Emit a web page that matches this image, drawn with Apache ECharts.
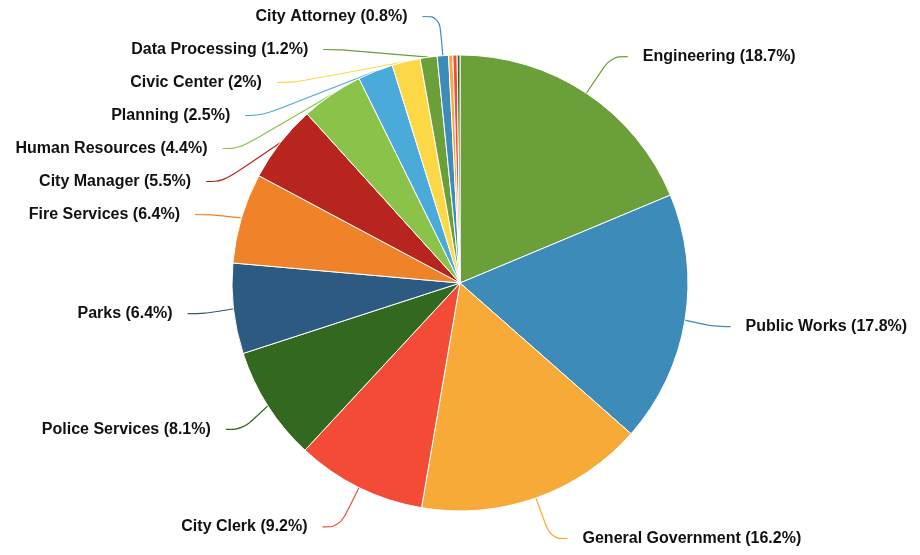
<!DOCTYPE html>
<html>
<head>
<meta charset="utf-8">
<script src="https://cdn.jsdelivr.net/npm/echarts@6/dist/echarts.min.js"></script>
<style>
html,body{margin:0;padding:0;background:#fff;}
#chart{width:920px;height:555px;}
</style>
</head>
<body>
<div id="chart"></div>
<script>
const categories = ["Engineering","Public Works","General Government","City Clerk","Police Services","Parks","Fire Services","City Manager","Human Resources","Planning","Civic Center","Data Processing","City Attorney","Finance","Library","Other"];
const values = [18.7,17.8,16.2,9.2,8.1,6.4,6.4,5.5,4.4,2.5,2,1.2,0.8,0.3,0.3,0.2];
const hiddenLabels = ["Finance","Library","Other"];
const palette = ["#6a9f3a","#3d8bb8","#f7aa37","#f44b37","#33691e","#2c5a80","#f0832a","#b8251f","#8bc34a","#4aaad9","#fdd846"];

const chart = echarts.init(document.getElementById('chart'));
chart.setOption({
  color: palette,
  animation: false,
  series: [{
    type: 'pie',
    center: [460, 283],
    radius: [0, 228],
    startAngle: 90,
    clockwise: true,
    avoidLabelOverlap: true,
    itemStyle: { borderColor: '#fff', borderWidth: 1 },
    label: {
      show: true,
      color: '#111',
      fontFamily: 'Liberation Sans, Arial, sans-serif',
      fontWeight: 'bold',
      fontSize: 16,
      padding: [8, 0, 0, 0],
      overflow: 'none',
      distanceToLabelLine: 15,
      minMargin: 17,
      formatter: p => p.name + ' (' + p.value + '%)'
    },
    labelLine: {
      show: true,
      length: 44,
      length2: 17,
      smooth: 0.4,
      lineStyle: { width: 1.2 }
    },
    emphasis: { disabled: true },
    data: categories.map((c, i) => {
      const hide = hiddenLabels.includes(c);
      return {
        name: c,
        value: values[i],
        label: { show: !hide },
        labelLine: { show: !hide }
      };
    })
  }]
});
</script>
</body>
</html>
